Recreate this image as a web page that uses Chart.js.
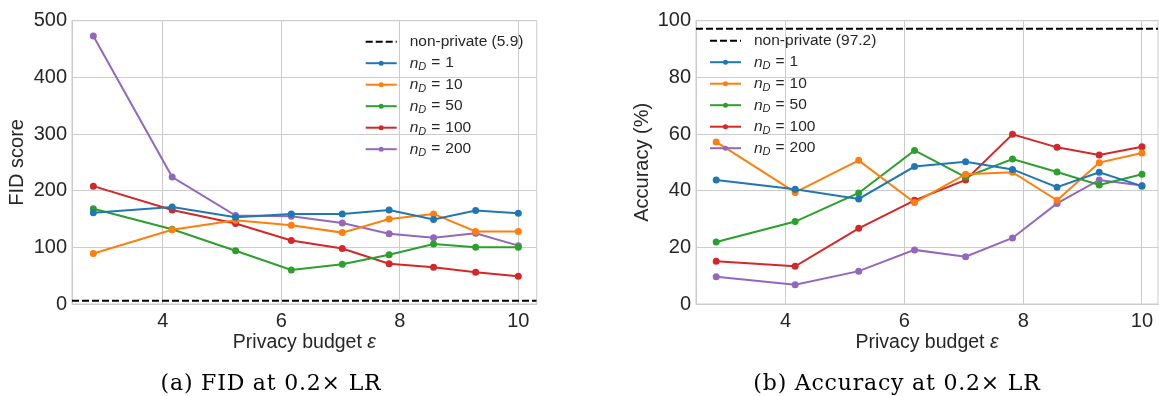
<!DOCTYPE html>
<html>
<head>
<meta charset="utf-8">
<script src="https://cdn.jsdelivr.net/npm/chart.js@4.4.1/dist/chart.umd.min.js"></script>
<style>
html, body { margin: 0; padding: 0; background: #fff; }
#wrap { position: relative; width: 1159px; height: 396px; overflow: hidden; }
.box { position: absolute; top: 0; height: 396px; }
#fidBox { left: 0; width: 560px; }
#accBox { left: 580px; width: 601px; }
</style>
</head>
<body>
<div id="wrap">
  <div class="box" id="fidBox"><canvas id="fidChart"></canvas></div>
  <div class="box" id="accBox"><canvas id="accChart"></canvas></div>
</div>
<script>
// privacy budget values on the x axis
var epsilon = [2.83, 4.16, 5.23, 6.17, 7.03, 7.82, 8.57, 9.28, 10.0];
var nD = ['1', '10', '50', '100', '200'];
var xTicks = [4, 6, 8, 10];

// FID at 0.2x LR
var fidN1   = [161, 171, 153, 159, 159, 166, 149, 165, 160];
var fidN10  = [89, 131, 148, 139, 126, 150, 159, 128, 128];
var fidN50  = [168, 132, 94, 60, 70, 87, 106, 100, 100];
var fidN100 = [208, 166, 142, 112, 98, 71, 65, 56, 49];
var fidN200 = [473, 224, 156, 155, 143, 124, 117, 125, 103];
var fidBaseline = 5.9;

// Accuracy at 0.2x LR
var accN1   = [43.8, 40.5, 37.1, 48.5, 50.2, 47.5, 41.2, 46.5, 41.6];
var accN10  = [57.2, 39.4, 50.7, 35.8, 45.8, 46.5, 36.6, 49.9, 53.3];
var accN50  = [21.9, 29.1, 39.2, 54.2, 44.8, 51.2, 46.6, 42.0, 45.8];
var accN100 = [15.1, 13.3, 26.7, 36.6, 43.8, 59.9, 55.3, 52.6, 55.5];
var accN200 = [9.6, 6.8, 11.6, 19.1, 16.7, 23.3, 35.5, 43.8, 41.8];
var accBaseline = 97.2;

var colors = ['#1f77b4', '#ff7f0e', '#2ca02c', '#d62728', '#9467bd'];
var gridColor = '#cccccc';
var textColor = '#262626';
var sans = '"Liberation Sans", Arial, sans-serif';

function points(vals) {
    return vals.map(function (v, i) { return { x: epsilon[i], y: v }; });
}

function buildDatasets(series, baseline, xMin, xMax) {
    var sets = [{
        label: 'non-private (' + baseline + ')',
        data: [{ x: xMin, y: baseline }, { x: xMax, y: baseline }],
        borderColor: '#000',
        borderWidth: 2,
        borderDash: [7, 3],
        pointRadius: 0
    }];
    series.forEach(function (vals, i) {
        sets.push({
            label: 'n_D = ' + nD[i],
            nValue: nD[i],
            data: points(vals),
            borderColor: colors[i],
            backgroundColor: colors[i],
            borderWidth: 2,
            pointRadius: 2.5,
            pointHoverRadius: 3
        });
    });
    return sets;
}

// matplotlib-like legend drawn inside the plot, no frame
var mplLegend = {
    id: 'mplLegend',
    afterDraw: function (chart, args, opts) {
        var ctx = chart.ctx, area = chart.chartArea;
        var x0 = opts.side === 'right' ? area.right - opts.offsetX : area.left + opts.offsetX;
        var y = area.top + opts.offsetY;
        chart.data.datasets.forEach(function (ds) {
            ctx.save();
            ctx.strokeStyle = ds.borderColor;
            ctx.lineWidth = ds.borderWidth;
            ctx.setLineDash(ds.borderDash || []);
            ctx.beginPath();
            ctx.moveTo(x0, y);
            ctx.lineTo(x0 + 31, y);
            ctx.stroke();
            if (ds.pointRadius) {
                ctx.fillStyle = ds.borderColor;
                ctx.beginPath();
                ctx.arc(x0 + 15.5, y, ds.pointRadius, 0, Math.PI * 2);
                ctx.fill();
            }
            ctx.fillStyle = textColor;
            ctx.textBaseline = 'middle';
            var tx = x0 + 44;
            if (ds.nValue) {
                ctx.font = 'italic 15.5px ' + sans;
                ctx.fillText('n', tx, y);
                tx += ctx.measureText('n').width;
                ctx.font = 'italic 11px ' + sans;
                ctx.fillText('D', tx, y + 4);
                tx += ctx.measureText('D').width + 5;
                ctx.font = '15.5px ' + sans;
                ctx.fillText('=', tx, y);
                tx += ctx.measureText('=').width + 5;
                ctx.fillText(ds.nValue, tx, y);
            } else {
                ctx.font = '15.5px ' + sans;
                ctx.fillText(ds.label, tx, y);
            }
            ctx.restore();
            y += opts.rowGap;
        });
    }
};

// top and right spines
var frame = {
    id: 'frame',
    beforeDatasetsDraw: function (chart) {
        var ctx = chart.ctx, a = chart.chartArea;
        ctx.save();
        ctx.strokeStyle = gridColor;
        ctx.lineWidth = 1;
        ctx.strokeRect(a.left, a.top, a.right - a.left, a.bottom - a.top);
        ctx.restore();
    }
};

// x axis title with an italic epsilon, and the subfigure caption below
var texts = {
    id: 'texts',
    afterDraw: function (chart, args, opts) {
        var ctx = chart.ctx, a = chart.chartArea;
        ctx.save();
        ctx.fillStyle = textColor;
        ctx.textBaseline = 'alphabetic';
        ctx.textAlign = 'left';
        var part1 = 'Privacy budget ', part2 = 'ε';
        ctx.font = '19.5px ' + sans;
        var w1 = ctx.measureText(part1).width;
        ctx.font = 'italic 19.5px ' + sans;
        var w2 = ctx.measureText(part2).width;
        var sx = (a.left + a.right) / 2 - (w1 + w2) / 2;
        ctx.font = '19.5px ' + sans;
        ctx.fillText(part1, sx, a.bottom + 44);
        ctx.font = 'italic 19.5px ' + sans;
        ctx.fillText(part2, sx + w1, a.bottom + 44);

        ctx.fillStyle = '#000';
        ctx.textAlign = 'center';
        ctx.font = '22px "DejaVu Serif", serif';
        ctx.letterSpacing = '0.8px';
        ctx.fillText(opts.text, opts.x, opts.y);
        ctx.restore();
    }
};

function makeChart(id, cfg) {
    var ctx = document.getElementById(id).getContext('2d');
    return new Chart(ctx, {
        type: 'line',
        data: { datasets: buildDatasets(cfg.series, cfg.baseline, cfg.xMin, cfg.xMax) },
        plugins: [frame, mplLegend, texts],
        options: {
            responsive: true,
            maintainAspectRatio: false,
            animation: false,
            layout: { padding: cfg.padding },
            plugins: {
                legend: { display: false },
                tooltip: { enabled: true },
                mplLegend: cfg.legend,
                texts: cfg.caption
            },
            scales: {
                x: {
                    type: 'linear',
                    min: cfg.xMin,
                    max: cfg.xMax,
                    afterBuildTicks: function (s) { s.ticks = xTicks.map(function (v) { return { value: v }; }); },
                    afterFit: function (s) { s.height = 92; },
                    grid: { color: gridColor, drawTicks: false },
                    border: { color: gridColor },
                    ticks: { color: textColor, padding: 5, font: { family: sans, size: 20 } }
                },
                y: {
                    min: cfg.yMin,
                    max: cfg.yMax,
                    afterFit: function (s) { s.width = cfg.yWidth; },
                    grid: { color: gridColor, drawTicks: false },
                    border: { color: gridColor },
                    ticks: { color: textColor, padding: 5, stepSize: cfg.yStep, font: { family: sans, size: 20 } },
                    title: {
                        display: true,
                        text: cfg.yTitle,
                        color: textColor,
                        font: { family: sans, size: 20 },
                        padding: { top: 5, bottom: 0 }
                    }
                }
            }
        }
    });
}

makeChart('fidChart', {
    series: [fidN1, fidN10, fidN50, fidN100, fidN200],
    baseline: fidBaseline,
    xMin: 2.47, xMax: 10.31,
    yMin: 0, yMax: 500, yStep: 100,
    yWidth: 72,
    yTitle: 'FID score',
    caption: { text: '(a) FID at 0.2× LR', x: 271, y: 390 },
    padding: { top: 20.7, right: 23.3, left: 0, bottom: 0 },
    legend: { side: 'right', offsetX: 171, offsetY: 21, rowGap: 21.5 }
});

makeChart('accChart', {
    series: [accN1, accN10, accN50, accN100, accN200],
    baseline: accBaseline,
    xMin: 2.49, xMax: 10.27,
    yMin: 0, yMax: 100, yStep: 20,
    yWidth: 71,
    yTitle: 'Accuracy (%)',
    caption: { text: '(b) Accuracy at 0.2× LR', x: 317, y: 390 },
    padding: { top: 20.7, right: 23, left: 45, bottom: 0 },
    legend: { side: 'left', offsetX: 14, offsetY: 20, rowGap: 21.5 }
});
</script>
</body>
</html>
